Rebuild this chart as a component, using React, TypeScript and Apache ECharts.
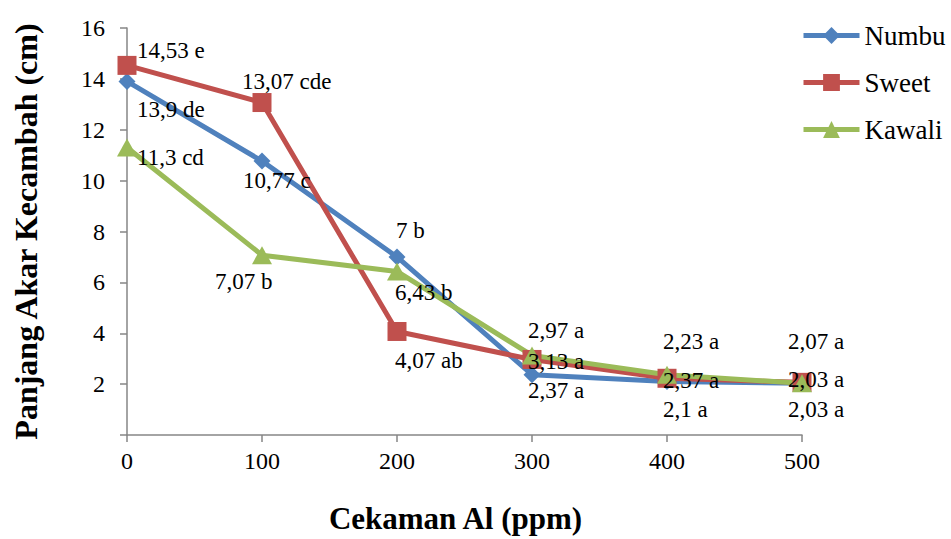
import React, { useEffect, useRef } from "react";
import * as echarts from "echarts";

const doses = [0, 100, 200, 300, 400, 500];
const seriesNames = ["Numbu", "Sweet", "Kawali"];
const numbu = [13.9, 10.77, 7, 2.37, 2.1, 2.03];
const sweet = [14.53, 13.07, 4.07, 2.97, 2.23, 2.07];
const kawali = [11.3, 7.07, 6.43, 3.13, 2.37, 2.03];
const numbuLetters = ["de", "c", "b", "a", "a", "a"];
const sweetLetters = ["e", "cde", "ab", "a", "a", "a"];
const kawaliLetters = ["cd", "b", "b", "a", "a", "a"];
const yTicks = [0, 2, 4, 6, 8, 10, 12, 14, 16];

// label offsets (styling only): from point centre to text left/middle
const numbuOffsets = [[10, 28], [-19, 19], [-1, -26], [-4, 16], [-4, 28], [-14, 26]];
const sweetOffsets = [[10, -15], [-20, -21], [-2, 29], [-4, -29], [-4, -37], [-14, -41]];
const kawaliOffsets = [[10, 10], [-47, 26], [-2, 21], [-4, 6], [-4, 6], [-14, -4]];

const FONT = "'Liberation Serif', 'Times New Roman', serif";
const AXIS_COLOR = "#868686";

function fmt(v: number, letter: string) {
  return String(v).replace(".", ",") + " " + letter;
}

function buildSeries(
  name: string,
  values: number[],
  letters: string[],
  offsets: number[][],
  color: string,
  symbol: string,
  symbolSize: number | number[]
) {
  return {
    name,
    type: "line",
    symbol,
    symbolSize,
    lineStyle: { color, width: 5, join: "round" },
    itemStyle: { color },
    data: values.map((v, i) => ({
      value: [doses[i], v],
      label: {
        show: true,
        position: "inside",
        align: "left",
        verticalAlign: "middle",
        offset: offsets[i],
        formatter: () => fmt(v, letters[i]),
        color: "#000",
        fontFamily: FONT,
        fontWeight: "normal",
        fontSize: 23,
      },
    })),
  };
}

export default function App() {
  const ref = useRef<HTMLDivElement>(null);
  useEffect(() => {
    if (!ref.current) return;
    const chart = echarts.init(ref.current, null, { renderer: "svg" });
    chart.setOption({
      animation: false,
      backgroundColor: "#fff",
      textStyle: { fontFamily: FONT },
      grid: { left: 127, right: 149, top: 28, bottom: 102, containLabel: false },
      legend: {
        orient: "vertical",
        left: 801,
        top: 22,
        padding: 0,
        itemWidth: 56,
        itemHeight: 21,
        itemGap: 20,
        data: seriesNames,
        lineStyle: { width: 5 },
        textStyle: { fontFamily: FONT, fontSize: 27, color: "#000" },
      },
      xAxis: {
        type: "value",
        min: 0,
        max: 500,
        interval: 100,
        name: "Cekaman Al (ppm)",
        nameLocation: "middle",
        nameGap: 68,
        nameTextStyle: {
          fontFamily: FONT,
          fontSize: 31,
          fontWeight: "bold",
          color: "#000",
          padding: [0, 18, 0, 0],
        },
        axisLine: { show: true, lineStyle: { color: AXIS_COLOR, width: 1.5 } },
        axisTick: { show: true, length: 7, lineStyle: { color: AXIS_COLOR, width: 1.5 } },
        axisLabel: { fontFamily: FONT, fontSize: 24, color: "#000", margin: 14 },
        splitLine: { show: false },
      },
      yAxis: {
        type: "value",
        min: yTicks[0],
        max: yTicks[yTicks.length - 1],
        interval: 2,
        name: "Panjang Akar Kecambah (cm)",
        nameLocation: "middle",
        nameRotate: 90,
        nameGap: 85,
        nameTextStyle: { fontFamily: FONT, fontSize: 32, fontWeight: "bold", color: "#000" },
        axisLine: { show: true, lineStyle: { color: AXIS_COLOR, width: 1.5 } },
        axisTick: { show: true, length: 7, lineStyle: { color: AXIS_COLOR, width: 1.5 } },
        axisLabel: {
          fontFamily: FONT,
          fontSize: 24,
          color: "#000",
          margin: 22,
          formatter: (v: number) => (v === 0 ? "" : String(v)),
        },
        splitLine: { show: false },
      },
      series: [
        buildSeries(seriesNames[0], numbu, numbuLetters, numbuOffsets, "#4F81BD", "diamond", 17),
        buildSeries(seriesNames[1], sweet, sweetLetters, sweetOffsets, "#C0504D", "rect", 19),
        buildSeries(seriesNames[2], kawali, kawaliLetters, kawaliOffsets, "#9BBB59", "triangle", [20, 18]),
      ],
    });
    return () => chart.dispose();
  }, []);
  return (
    <div
      ref={ref}
      style={{ position: "fixed", left: 0, top: 0, width: 951, height: 539, background: "#fff" }}
    />
  );
}
